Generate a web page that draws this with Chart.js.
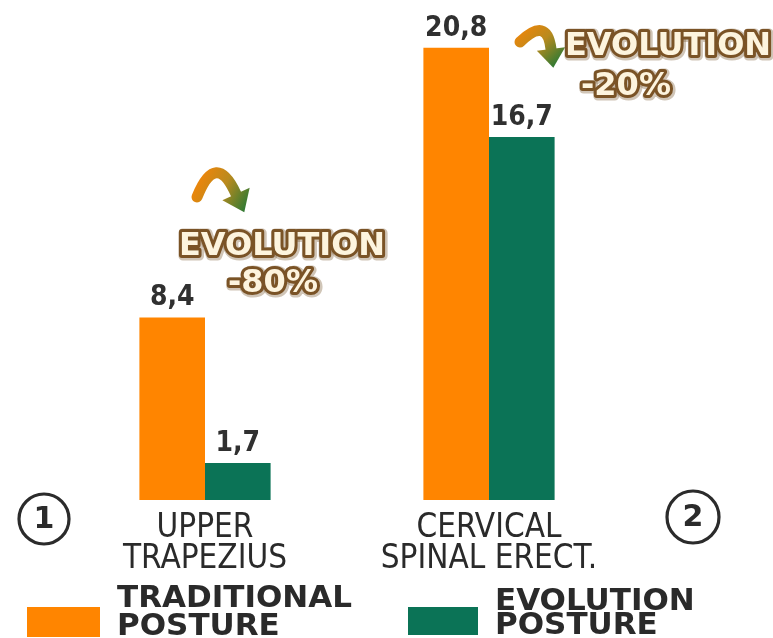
<!DOCTYPE html>
<html>
<head>
<meta charset="utf-8">
<script src="https://cdn.jsdelivr.net/npm/chart.js@4.4.1/dist/chart.umd.min.js"></script>
<style>
  html, body { margin: 0; padding: 0; background: #ffffff; }
  #wrap { width: 773px; height: 638px; }
</style>
</head>
<body>
<div id="wrap"><canvas id="c" width="773" height="638"></canvas></div>
<script>
// ---- data ----
const categories = [["UPPER", "TRAPEZIUS"], ["CERVICAL", "SPINAL ERECT."]];
const traditionalPosture = [8.4, 20.8];
const evolutionPosture = [1.7, 16.7];
const seriesNames = [["TRADITIONAL", "POSTURE"], ["EVOLUTION", "POSTURE"]];
const changeLabels = ["-80%", "-20%"];
const groupNumbers = ["1", "2"];

const ORANGE = "#ff8500";
const GREEN = "#0b7356";
const TEXT = "#303030";

function fmt(v) { return v.toFixed(1).replace(".", ","); }

function drawArrow(ctx, p0, pc, p1, head, width) {
  const dx = p1[0] - pc[0], dy = p1[1] - pc[1];
  const len = Math.hypot(dx, dy);
  const ux = dx / len, uy = dy / len;
  const px = -uy, py = ux;
  const tip = [p1[0] + ux * head, p1[1] + uy * head];
  const g = ctx.createLinearGradient(p0[0], p0[1] - 10, tip[0], tip[1]);
  g.addColorStop(0, "#e8860c");
  g.addColorStop(0.45, "#b98a1e");
  g.addColorStop(1, "#2f7a34");
  ctx.save();
  ctx.strokeStyle = g;
  ctx.lineWidth = width;
  ctx.lineCap = "round";
  ctx.beginPath();
  ctx.moveTo(p0[0], p0[1]);
  ctx.quadraticCurveTo(pc[0], pc[1], p1[0], p1[1]);
  ctx.stroke();
  const hw = head * 0.75;
  ctx.fillStyle = g;
  ctx.beginPath();
  ctx.moveTo(p1[0] + px * hw, p1[1] + py * hw);
  ctx.lineTo(p1[0] - px * hw, p1[1] - py * hw);
  ctx.lineTo(tip[0], tip[1]);
  ctx.closePath();
  ctx.fill();
  ctx.restore();
}

function outlinedText(ctx, txt, x, y, size) {
  ctx.save();
  ctx.font = "bold " + size + "px 'DejaVu Sans'";
  ctx.textAlign = "center";
  ctx.textBaseline = "alphabetic";
  ctx.lineJoin = "round";
  ctx.strokeStyle = "rgba(120,90,50,0.35)";
  ctx.lineWidth = 9;
  ctx.strokeText(txt, x + 1, y + 1);
  ctx.strokeStyle = "#7a5326";
  ctx.lineWidth = 6;
  ctx.strokeText(txt, x, y);
  ctx.fillStyle = "#fdf4de";
  ctx.fillText(txt, x, y);
  ctx.restore();
}

const decor = {
  id: "decor",
  afterDatasetsDraw(chart) {
    const ctx = chart.ctx;
    // value labels
    ctx.save();
    ctx.font = "bold 28px 'DejaVu Sans Condensed', 'DejaVu Sans'";
    ctx.fillStyle = TEXT;
    ctx.textAlign = "center";
    ctx.textBaseline = "alphabetic";
    chart.data.datasets.forEach((ds, di) => {
      chart.getDatasetMeta(di).data.forEach((bar, i) => {
        ctx.fillText(fmt(ds.data[i]), bar.x, bar.y - 12);
      });
    });
    ctx.restore();
  },
  afterDraw(chart) {
    const ctx = chart.ctx;
    // circled group numbers
    const circles = [[44, 519, 25], [693, 517, 26]];
    groupNumbers.forEach((n, i) => {
      const [cx, cy, r] = circles[i];
      ctx.save();
      ctx.strokeStyle = "#2b2b2b";
      ctx.lineWidth = 3.2;
      ctx.beginPath();
      ctx.arc(cx, cy, r, 0, Math.PI * 2);
      ctx.stroke();
      ctx.fillStyle = "#2b2b2b";
      ctx.font = "bold 30px 'DejaVu Sans'";
      ctx.textAlign = "center";
      ctx.textBaseline = "middle";
      ctx.fillText(n, cx, cy + 1);
      ctx.restore();
    });
    // legend
    const legendPos = [
      { box: [27, 607, 73, 30], tx: 117, ty: [607, 635] },
      { box: [408, 607, 70, 28], tx: 495, ty: [610, 634] }
    ];
    chart.data.datasets.forEach((ds, i) => {
      const L = legendPos[i];
      ctx.save();
      ctx.fillStyle = ds.backgroundColor;
      ctx.fillRect(L.box[0], L.box[1], L.box[2], L.box[3]);
      ctx.fillStyle = "#2a2a2a";
      ctx.font = "bold 31px 'DejaVu Sans'";
      ctx.textAlign = "left";
      ctx.textBaseline = "alphabetic";
      seriesNames[i].forEach((line, k) => ctx.fillText(line, L.tx, L.ty[k]));
      ctx.restore();
    });
    // evolution annotations
    drawArrow(ctx, [197, 197], [216, 150], [236, 194], 20, 11);
    drawArrow(ctx, [520, 42], [547, 16], [551, 49], 19, 11);
    outlinedText(ctx, "EVOLUTION", 282, 255, 32);
    outlinedText(ctx, changeLabels[0], 273, 292, 32);
    outlinedText(ctx, "EVOLUTION", 668, 55, 32);
    outlinedText(ctx, changeLabels[1], 626, 95, 32);
  }
};

new Chart(document.getElementById("c"), {
  type: "bar",
  data: {
    labels: categories,
    datasets: [
      { label: seriesNames[0].join(" "), data: traditionalPosture, backgroundColor: ORANGE, borderWidth: 0 },
      { label: seriesNames[1].join(" "), data: evolutionPosture, backgroundColor: GREEN, borderWidth: 0 }
    ]
  },
  options: {
    responsive: false,
    animation: false,
    devicePixelRatio: 1,
    layout: { padding: { left: 63, right: 142, top: 0, bottom: 63 } },
    datasets: { bar: { barPercentage: 1.0, categoryPercentage: 0.462 } },
    plugins: { legend: { display: false }, tooltip: { enabled: false } },
    scales: {
      x: {
        grid: { display: false, drawTicks: false },
        border: { display: false },
        ticks: {
          padding: 13,
          color: "#2a2a2a",
          font: { family: "'Liberation Sans Narrow', 'DejaVu Sans Condensed', sans-serif", size: 33, lineHeight: 0.94 }
        },
        afterFit(s) { s.height = 75; }
      },
      y: { display: false, min: 0, max: 23 }
    }
  },
  plugins: [decor]
});
</script>
</body>
</html>
